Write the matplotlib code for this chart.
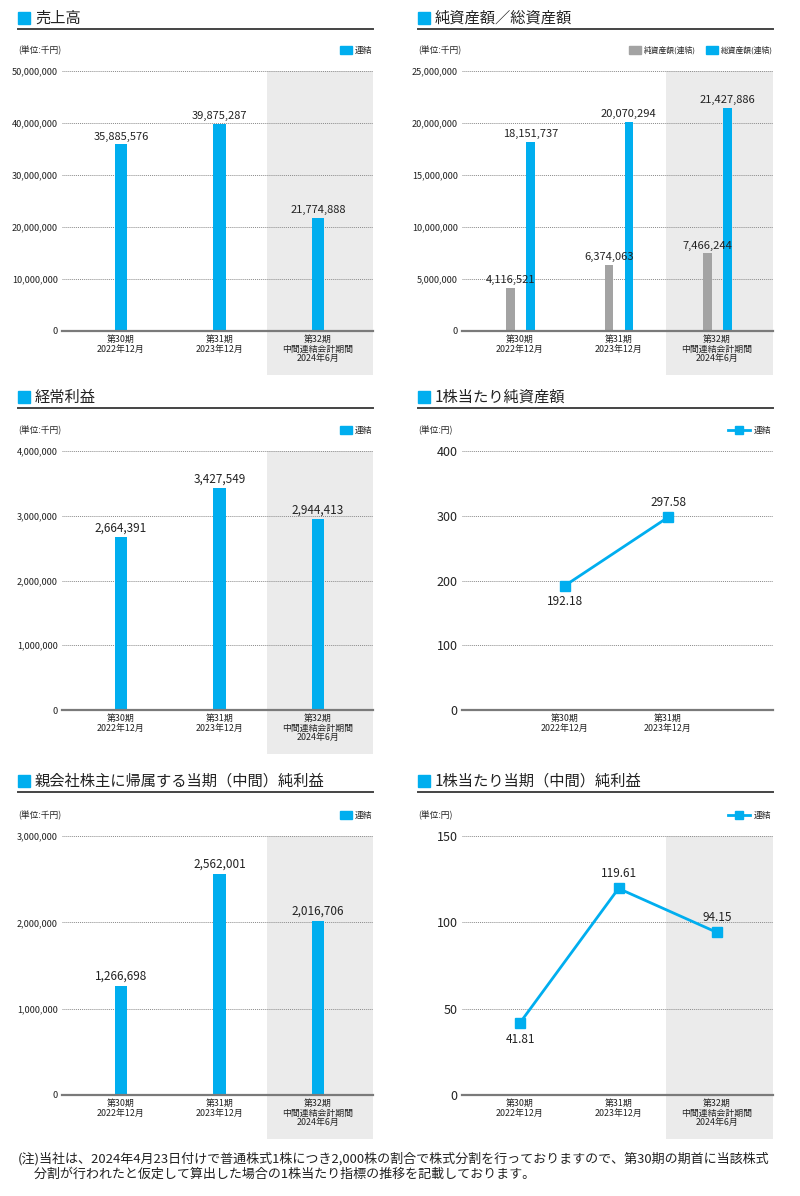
import matplotlib
matplotlib.use('Agg')
import matplotlib.pyplot as plt
from matplotlib.patches import Rectangle
from matplotlib.lines import Line2D
import matplotlib.transforms as mtransforms
import numpy as np

plt.rcParams['font.family'] = ['Noto Sans CJK JP', 'DejaVu Sans']
NUMF = ['Liberation Sans Narrow', 'Noto Sans CJK JP', 'DejaVu Sans']

W, H = 800, 1196
BLUE = '#00aeef'
GRAY = '#a3a3a3'
SHADE = '#ebebeb'
TXT = '#222222'

# ---------------- data ----------------
categories = ['第30期\n2022年12月', '第31期\n2023年12月', '第32期\n中間連結会計期間\n2024年6月']
categories_bps = ['第30期\n2022年12月', '第31期\n2023年12月']
sales = [35885576, 39875287, 21774888]
net_assets = [4116521, 6374063, 7466244]
total_assets = [18151737, 20070294, 21427886]
ordinary_profit = [2664391, 3427549, 2944413]
net_income = [1266698, 2562001, 2016706]
bps = [192.18, 297.58]
eps = [41.81, 119.61, 94.15]

titles = ['売上高', '純資産額／総資産額', '経常利益', '1株当たり純資産額',
          '親会社株主に帰属する当期（中間）純利益', '1株当たり当期（中間）純利益']
note = ('(注)当社は、2024年4月23日付けで普通株式1株につき2,000株の割合で株式分割を行っておりますので、第30期の期首に当該株式\n'
        '　 分割が行われたと仮定して算出した場合の1株当たり指標の推移を記載しております。')

fig = plt.figure(figsize=(W / 100, H / 100), dpi=100)
fig.patch.set_facecolor('white')


def fx(x):
    return x / W


def fy(y):
    return 1 - y / H


def ax_at(x0, x1, ytop, ybot):
    return fig.add_axes([fx(x0), fy(ybot), (x1 - x0) / W, (ybot - ytop) / H])


def header(x0, x1, y_title, y_line, title):
    fig.patches.append(Rectangle((fx(x0), fy(y_title + 6)), 12 / W, 12 / H,
                                 transform=fig.transFigure, color=BLUE))
    fig.text(fx(x0 + 17), fy(y_title), title, fontsize=11, va='center', ha='left', color=TXT)
    fig.add_artist(Line2D([fx(x0), fx(x1)], [fy(y_line), fy(y_line)], color='#444444', lw=1.4,
                          transform=fig.transFigure))


def units(x, y, s):
    fig.text(fx(x), fy(y), s, fontsize=6.3, va='center', ha='left', color=TXT)


def legend_box(x, y, color, label, fs=6.3):
    fig.patches.append(Rectangle((fx(x), fy(y + 4)), 12 / W, 8 / H,
                                 transform=fig.transFigure, color=color))
    fig.text(fx(x + 15), fy(y), label, fontsize=fs, va='center', ha='left', color=TXT)


def legend_line(x, y, label):
    fig.add_artist(Line2D([fx(x), fx(x + 22)], [fy(y), fy(y)], color=BLUE, lw=2,
                          transform=fig.transFigure))
    fig.add_artist(Line2D([fx(x + 11)], [fy(y)], color=BLUE, marker='s', markersize=6,
                          linestyle='none', transform=fig.transFigure))
    fig.text(fx(x + 26), fy(y), label, fontsize=6.3, va='center', ha='left', color=TXT)


def style(ax, ymax, step, fmt, xlim, cats, xpos, shade_from=None, tick_fs=6.6, tick_family=NUMF):
    ax.set_ylim(0, ymax)
    ax.set_xlim(*xlim)
    for s in ax.spines.values():
        s.set_visible(False)
    ticks = np.arange(0, ymax + step / 2, step)
    ax.set_yticks(ticks)
    ax.set_yticklabels([fmt(t) for t in ticks], fontfamily=tick_family, fontsize=tick_fs, color=TXT)
    ax.tick_params(axis='y', length=0, pad=3)
    ax.set_xticks(xpos)
    ax.set_xticklabels(cats, fontsize=6.4, color=TXT, linespacing=1.05)
    ax.tick_params(axis='x', length=0, pad=3)
    for t in ticks[1:]:
        ax.axhline(t, color='#8a8a8a', lw=0.7, ls=(0, (1, 1)), zorder=1, clip_on=False)
    ax.axhline(0, color='#7a7a7a', lw=1.6, zorder=4, clip_on=False)
    if shade_from is not None:
        tr = mtransforms.blended_transform_factory(ax.transData, ax.transAxes)
        ax.add_patch(Rectangle((shade_from, -0.168), xlim[1] - shade_from, 1.168, transform=tr,
                               color=SHADE, zorder=0, clip_on=False, lw=0))


def bar_labels(ax, xs, vals, fs=8):
    for x, v in zip(xs, vals):
        ax.annotate(f'{v:,}', (x, v), xytext=(0, 2), textcoords='offset points',
                    ha='center', va='bottom', fontsize=fs, fontfamily=NUMF, color=TXT)


LX0, LX1 = 62, 373
RX0, RX1 = 462, 773
SP = 98.5
xl_left = ((LX0 - 121) / SP, (LX1 - 121) / SP)
xl_right = ((RX0 - 520) / SP, (RX1 - 520) / SP)
sh_left = (267 - 121) / SP
sh_right = (666 - 520) / SP
x3 = np.arange(len(categories))
fmt_int = lambda t: f'{int(t):,}'

# ---------- row 1 ----------
header(18, 373, 18, 29, titles[0])
units(18, 50, '(単位:千円)')
legend_box(340, 50, BLUE, '連結')
ax = ax_at(LX0, LX1, 71, 331)
style(ax, 50000000, 10000000, fmt_int, xl_left, categories, x3, sh_left)
ax.bar(x3, sales, width=0.13, color=BLUE, zorder=2)
bar_labels(ax, x3, sales)

header(418, 773, 18, 29, titles[1])
units(418, 50, '(単位:千円)')
legend_box(629, 50, GRAY, '純資産額(連結)', fs=5.6)
legend_box(706, 50, BLUE, '総資産額(連結)', fs=5.6)
ax = ax_at(RX0, RX1, 71, 331)
style(ax, 25000000, 5000000, fmt_int, xl_right, categories, x3, sh_right)
ax.bar(x3 - 0.095, net_assets, width=0.085, color=GRAY, zorder=2)
ax.bar(x3 + 0.105, total_assets, width=0.085, color=BLUE, zorder=2)
bar_labels(ax, x3 - 0.095, net_assets)
bar_labels(ax, x3 + 0.105, total_assets)

# ---------- row 2 ----------
header(18, 373, 397, 408, titles[2])
units(18, 430, '(単位:千円)')
legend_box(340, 430, BLUE, '連結')
ax = ax_at(LX0, LX1, 451, 710)
style(ax, 4000000, 1000000, fmt_int, xl_left, categories, x3, sh_left)
ax.bar(x3, ordinary_profit, width=0.13, color=BLUE, zorder=2)
bar_labels(ax, x3, ordinary_profit, fs=8.5)

header(418, 773, 397, 408, titles[3])
units(418, 430, '(単位:円)')
legend_line(728, 430, '連結')
ax = ax_at(RX0, RX1, 451, 710)
x2 = np.arange(len(categories_bps))
style(ax, 400, 100, lambda t: f'{int(t)}', ((RX0 - 565) / 103, (RX1 - 565) / 103),
      categories_bps, x2, None, tick_fs=9, tick_family=['Noto Sans CJK JP', 'DejaVu Sans'])
ax.plot(x2, bps, color=BLUE, lw=2, marker='s', markersize=7, zorder=5, clip_on=False)
ax.annotate(f'{bps[0]:.2f}', (x2[0], bps[0]), xytext=(0, -7), textcoords='offset points',
            ha='center', va='top', fontsize=8.5, color=TXT)
ax.annotate(f'{bps[1]:.2f}', (x2[1], bps[1]), xytext=(0, 6), textcoords='offset points',
            ha='center', va='bottom', fontsize=8.5, color=TXT)

# ---------- row 3 ----------
header(18, 373, 781, 792, titles[4])
units(18, 815, '(単位:千円)')
legend_box(340, 815, BLUE, '連結')
ax = ax_at(LX0, LX1, 836, 1095)
style(ax, 3000000, 1000000, fmt_int, xl_left, categories, x3, sh_left)
ax.bar(x3, net_income, width=0.13, color=BLUE, zorder=2)
bar_labels(ax, x3, net_income, fs=8.5)

header(418, 773, 781, 792, titles[5])
units(418, 815, '(単位:円)')
legend_line(728, 815, '連結')
ax = ax_at(RX0, RX1, 836, 1095)
style(ax, 150, 50, lambda t: f'{int(t)}', xl_right, categories, x3, sh_right,
      tick_fs=9, tick_family=['Noto Sans CJK JP', 'DejaVu Sans'])
ax.plot(x3, eps, color=BLUE, lw=2, marker='s', markersize=7, zorder=5, clip_on=False)
ax.annotate(f'{eps[0]:.2f}', (x3[0], eps[0]), xytext=(0, -7), textcoords='offset points',
            ha='center', va='top', fontsize=8.5, color=TXT)
for i in (1, 2):
    ax.annotate(f'{eps[i]:.2f}', (x3[i], eps[i]), xytext=(0, 6), textcoords='offset points',
                ha='center', va='bottom', fontsize=8.5, color=TXT)

# ---------- note ----------
fig.text(fx(18), fy(1152), note, fontsize=9.4, va='top', ha='left', color=TXT, linespacing=1.2)

fig.savefig('out.png', dpi=100, facecolor='white')
